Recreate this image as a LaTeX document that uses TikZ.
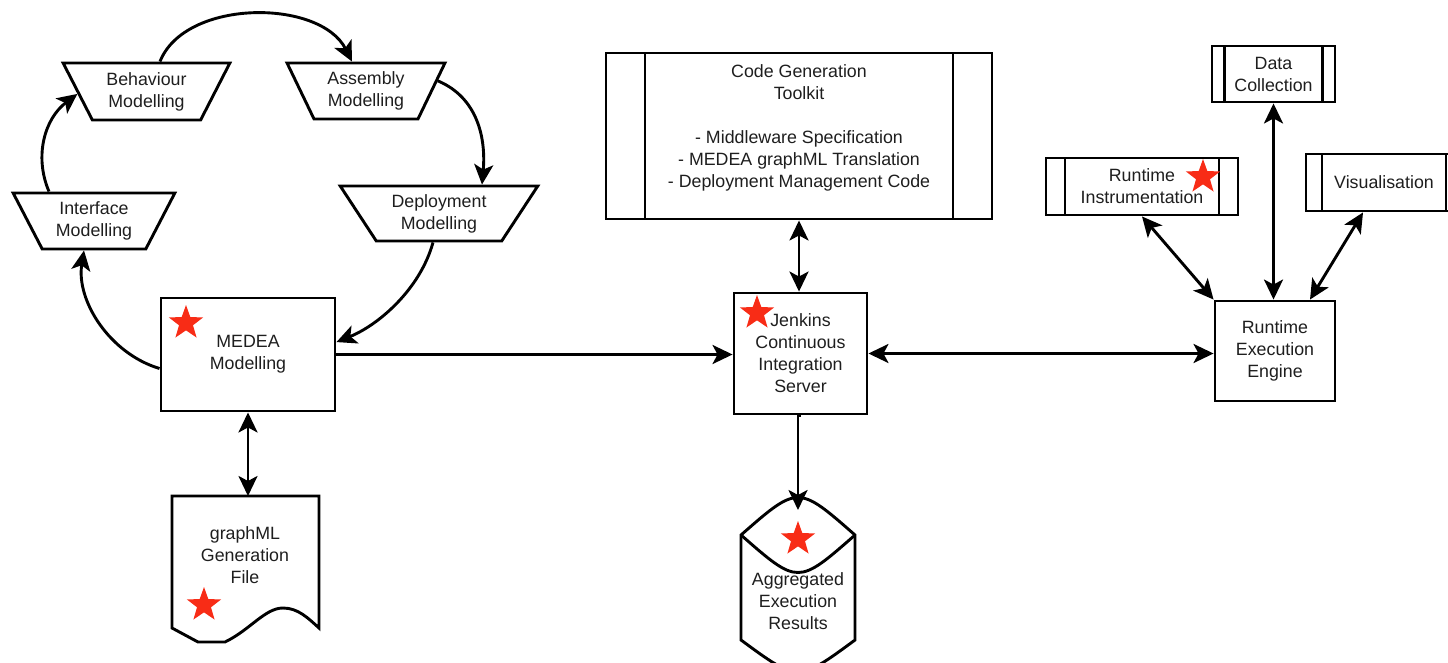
\documentclass[tikz,border=0pt]{standalone}
\usepackage{fontspec}
\setmainfont{Liberation Sans}
\usetikzlibrary{shapes.geometric,arrows.meta}
\definecolor{starred}{RGB}{248,44,22}
\definecolor{ink}{RGB}{30,30,30}
\begin{document}
\begin{tikzpicture}[x=1pt,y=-1pt,
  every node/.style={font=\fontsize{17.8}{22}\selectfont, text=ink, align=center, inner sep=0pt},
  line/.style={line width=2.9pt, draw=black},
  tip/.tip={Stealth[length=20pt,width=19pt,inset=5pt]},
  arr/.style={line, -tip},
  darr/.style={line, tip-tip},
  box/.style={draw, line width=2.9pt, rectangle},
  procbox/.style={box, path picture={
      \draw[line width=2.9pt] ([xshift=#1]path picture bounding box.north west) -- ([xshift=#1]path picture bounding box.south west);
      \draw[line width=2.9pt] ([xshift=-#1]path picture bounding box.north east) -- ([xshift=-#1]path picture bounding box.south east);}},
  trap/.style={trapezium, draw, line width=2.9pt, shape border rotate=180,
      trapezium stretches=true, trapezium angle=#1},
  redstar/.style={star, star points=5, star point ratio=2.45, fill=starred, draw=none,
      minimum size=36pt, inner sep=0pt}
]
\useasboundingbox (0,0) rectangle (1448,662);
\clip (0,0) rectangle (1448,662);

% modelling cycle
\node[trap=60.7, minimum width=167pt, minimum height=57pt] (beh) at (146.5,91.5) {Behaviour\\Modelling};
\node[trap=62.6, minimum width=158pt, minimum height=56pt] (asm) at (366,91) {Assembly\\Modelling};
\node[trap=61, minimum width=162pt, minimum height=56pt] (itf) at (94,221) {Interface\\Modelling};
\node[trap=54.7, minimum width=198pt, minimum height=55pt] (dep) at (439,213.5) {Deployment\\Modelling};

% main boxes
\node[box, minimum width=174pt, minimum height=113pt] (medea) at (248,354.5) {MEDEA\\Modelling};
\node[box, minimum width=133pt, minimum height=121pt] (jenkins) at (800.5,353.5) {Jenkins\\Continuous\\Integration\\Server};
\node[box, minimum width=120pt, minimum height=100pt] (ree) at (1275,351) {Runtime\\Execution\\Engine};

% predefined processes
\node[procbox=39pt, minimum width=386pt, minimum height=166pt] (code) at (799,136) {};
\node (codetext) at (799,127.5) {Code Generation\\Toolkit\\[22pt]- Middleware Specification\\- MEDEA graphML Translation\\- Deployment Management Code};
\node[procbox=12.5pt, minimum width=123pt, minimum height=56pt] (data) at (1273.5,74) {Data\\Collection};
\node[procbox=19pt, minimum width=192pt, minimum height=57pt] (instr) at (1142,186.5) {Runtime\\Instrumentation};
\node[procbox=16pt, minimum width=156pt, minimum height=57pt] (vis) at (1384,182.5) {Visualisation};

% graphML document
\draw[line] (172,628) -- (172,496) -- (319,496) -- (319,628)
  .. controls (308,618) and (298,608) .. (283,608)
  .. controls (265,608) and (250,630) .. (225,642) -- (198,642) -- cycle;
\node (doc) at (245,555) {graphML\\Generation\\File};
\coordinate (doctop) at (248,496);

% aggregated results store
\draw[line] (741,535) .. controls (798,485) .. (855,535) -- (855,640)
  .. controls (798,682) .. (741,640) -- cycle;
\draw[line] (741,535) .. controls (798,585) .. (855,535);
\node (agg) at (798,601) {Aggregated\\Execution\\Results};
\coordinate (aggtop) at (798,510);

% cycle connectors
\draw[arr] ([xshift=13.5pt]beh.90) .. controls +(25,-63) and +(-32,-63) .. ([xshift=-14pt]asm.90);
\draw[arr] (asm.8) .. controls +(40,17) and +(4,-46) .. ([xshift=43pt]dep.90);
\draw[arr] ([xshift=-6pt]dep.270) .. controls +(-13,47) and +(42,-17) .. (medea.8);
\draw[arr] (medea.189) .. controls +(-50,-15) and +(-8,50) .. ([xshift=-10pt]itf.270);
\draw[arr] ([xshift=-45pt]itf.90) .. controls +(-15,-35) and +(-33,25) .. (beh.182);

% pipeline connectors
\draw[darr] (medea.south) -- (medea.south |- doctop);
\draw[arr] (medea.east) -- (medea.east -| jenkins.west);
\draw[darr] (code.south) -- (code.south |- jenkins.north);
\draw[arr] (jenkins.south) -- (jenkins.south -| aggtop) -- (aggtop);
\draw[darr] (jenkins.east) -- (jenkins.east -| ree.west);
\draw[darr] (data.south) -- (data.south |- ree.north);
\draw[darr] (instr.south) -- (ree.north west);
\draw[darr] ([xshift=-21pt]vis.south) -- ([xshift=35pt]ree.north);

% stars
\node[redstar] (s1) at (186,323) {};
\node[redstar] (s2) at (204,605) {};
\node[redstar] (s3) at (757,313) {};
\node[redstar] (s4) at (798,539) {};
\node[redstar] (s5) at (1203,177) {};
\end{tikzpicture}
\end{document}
